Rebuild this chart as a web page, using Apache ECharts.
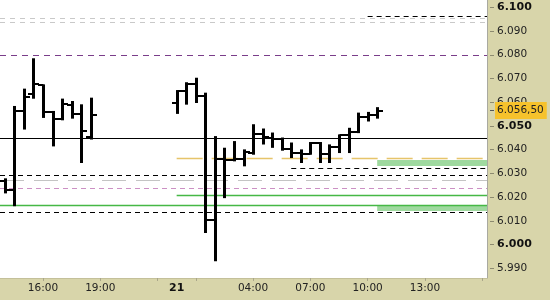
<!DOCTYPE html>
<html><head><meta charset="utf-8">
<script src="https://cdn.jsdelivr.net/npm/echarts@6/dist/echarts.min.js"></script>
<style>html,body{margin:0;padding:0;background:#d8d5aa}#c{width:550px;height:300px}</style>
</head><body><div id="c"></div>
<script>
// 30-minute slots (the 23:00-24:00 hour is not traded)
const categories = [
  '20 14:00','20 14:30','20 15:00','20 15:30','20 16:00','20 16:30','20 17:00','20 17:30','20 18:00','20 18:30',
  '20 19:00','20 19:30','20 20:00','20 20:30','20 21:00','20 21:30','20 22:00','20 22:30',
  '21 00:00','21 00:30','21 01:00','21 01:30','21 02:00','21 02:30','21 03:00','21 03:30','21 04:00','21 04:30',
  '21 05:00','21 05:30','21 06:00','21 06:30','21 07:00','21 07:30','21 08:00','21 08:30','21 09:00','21 09:30',
  '21 10:00','21 10:30','21 11:00','21 11:30','21 12:00','21 12:30','21 13:00','21 13:30','21 14:00','21 14:30',
  '21 15:00','21 15:30','21 16:00'
];
const xLabelCats = ['20 16:00','20 19:00','21 00:00','21 04:00','21 07:00','21 10:00','21 13:00'];
const xLabelTexts = ['16:00','19:00','21','04:00','07:00','10:00','13:00'];
const xTickCats = ['20 16:00','20 19:00','20 22:00','21 01:00','21 04:00','21 07:00','21 10:00','21 13:00','21 16:00'];

const yTicks = [5.99,6.00,6.01,6.02,6.03,6.04,6.05,6.06,6.07,6.08,6.09,6.10];
const yBoldTicks = [6.00,6.05,6.10];
const lastPrice = 6.0565;
const lastPriceText = '6.056,50';

// OHLC bars
const barTimes = ['20 14:00','20 14:30','20 15:00','20 15:30','20 16:00','20 16:30','20 17:00','20 17:30','20 18:00','20 18:30',
  '21 00:00','21 00:30','21 01:00','21 01:30','21 02:00','21 02:30','21 03:00','21 03:30','21 04:00','21 04:30',
  '21 05:00','21 05:30','21 06:00','21 06:30','21 07:00','21 07:30','21 08:00','21 08:30','21 09:00','21 09:30',
  '21 10:00','21 10:30'];
const opens  = [6.0267,6.0230,6.0563,6.0636,6.0671,6.0559,6.0528,6.0590,6.0552,6.0453,
  6.0597,6.0647,6.0676,6.0625,6.0102,6.0362,6.0358,6.0360,6.0388,6.0468,
  6.0451,6.0444,6.0404,6.0386,6.0383,6.0428,6.0383,6.0411,6.0460,6.0474,
  6.0538,6.0545];
const highs  = [6.0275,6.0580,6.0653,6.0781,6.0671,6.0559,6.0611,6.0601,6.0587,6.0615,
  6.0647,6.0680,6.0699,6.0636,6.0453,6.0404,6.0432,6.0397,6.0503,6.0485,
  6.0468,6.0447,6.0426,6.0397,6.0428,6.0428,6.0418,6.0460,6.0488,6.0552,
  6.0555,6.0575];
const lows   = [6.0220,6.0166,6.0489,6.0619,6.0538,6.0418,6.0528,6.0535,6.0348,6.0447,
  6.0555,6.0594,6.0601,6.0053,5.9934,6.0200,6.0355,6.0334,6.0383,6.0426,
  6.0412,6.0400,6.0369,6.0348,6.0383,6.0348,6.0348,6.0390,6.0390,6.0474,
  6.0523,6.0535];
const closes = [6.0229,6.0563,6.0622,6.0676,6.0559,6.0528,6.0594,6.0552,6.0479,6.0545,
  6.0647,6.0676,6.0625,6.0102,6.0362,6.0358,6.0360,6.0390,6.0468,6.0453,
  6.0444,6.0404,6.0386,6.0383,6.0428,6.0383,6.0411,6.0460,6.0474,6.0538,
  6.0545,6.0565];

// horizontal levels: value and first slot (null = whole width)
const levelValues = [6.0960,6.0951,6.0938,6.0799,6.0448,6.0361,6.0322,6.0292,6.0269,6.0236,6.0208,6.0165,6.0135];
const levelStarts = ['21 10:00',null,null,null,null,'21 00:00','21 06:00',null,null,null,'21 00:00',null,null];
const levelKinds  = ['blackDash','grayDash','grayDash','purpleDash','blackSolid','orangeDash','blackDash','blackDash','grayDash2','pinkDash','green','green','blackDash'];

// shaded zones: from slot to right edge
const zoneStarts = ['21 10:30','21 10:30'];
const zoneTops = [6.0357,6.0163];
const zoneBottoms = [6.0331,6.0142];

const lineStyles = {
  blackDash:{stroke:'#000000',lineWidth:1,lineDash:[5,4]},
  grayDash:{stroke:'#c9c9c9',lineWidth:1,lineDash:[5,5]},
  grayDash2:{stroke:'#c4c4c4',lineWidth:1,lineDash:[24,10]},
  purpleDash:{stroke:'#7a3d8a',lineWidth:1.2,lineDash:[6,5]},
  blackSolid:{stroke:'#000000',lineWidth:1},
  orangeDash:{stroke:'#e6c46a',lineWidth:1.5,lineDash:[26,9]},
  pinkDash:{stroke:'#cc90c4',lineWidth:1,lineDash:[5,4]},
  green:{stroke:'#46b846',lineWidth:1.3}
};

const ci = c => categories.indexOf(c);
const FONT = 'DejaVu Sans';
const yMin = 5.98592, yMax = 6.10308;

const chart = echarts.init(document.getElementById('c'), null, {renderer:'canvas'});
const crisp = v => Math.round(v) + 0.5;

chart.setOption({
  animation:false,
  backgroundColor:'#d8d5aa',
  grid:{left:0, top:0, width:487, height:278, show:true, backgroundColor:'#ffffff', borderWidth:0},
  xAxis:{
    type:'category', data:categories, boundaryGap:true,
    axisLine:{show:true, lineStyle:{color:'#c4c09a'}},
    axisTick:{show:true, alignWithLabel:true, length:3, lineStyle:{color:'#aaa68a'},
      interval:(i,v)=>xTickCats.indexOf(categories[i])>=0},
    axisLabel:{margin:5, fontFamily:FONT, fontSize:10.5, color:'#222',
      interval:(i,v)=>xLabelCats.indexOf(categories[i])>=0,
      formatter:(v)=>{const k=xLabelCats.indexOf(v); if(k<0) return ''; const t=xLabelTexts[k]; return t==='21'?'{b|'+t+'}':t;},
      rich:{b:{fontWeight:'bold', fontFamily:FONT, fontSize:11, color:'#111'}}},
    splitLine:{show:false}
  },
  yAxis:[
    {type:'value', position:'right', min:yMin, max:yMax, offset:0,
      axisLine:{show:true, lineStyle:{color:'#a9a9a0'}}, axisTick:{show:false}, axisLabel:{show:false}, splitLine:{show:false}},
    {type:'value', position:'right', min:yMin, max:yMax, offset:3,
      axisLine:{show:false}, splitLine:{show:false},
      axisTick:{show:true, length:4, customValues:yTicks, lineStyle:{color:'#8c8a70'}},
      axisLabel:{customValues:yTicks, margin:7, fontFamily:FONT, fontSize:10.5, color:'#222',
        formatter:(v)=>{const s=v.toFixed(3); return yBoldTicks.some(b=>Math.abs(b-v)<1e-6)?'{b|'+s+'}':s;},
        rich:{b:{fontWeight:'bold', fontFamily:FONT, fontSize:11, color:'#111'}}}},
    {type:'value', position:'right', min:yMin, max:yMax, offset:3,
      axisLine:{show:false}, splitLine:{show:false},
      axisTick:{show:true, length:4, customValues:[lastPrice], lineStyle:{color:'#555'}},
      axisLabel:{customValues:[lastPrice], margin:5, fontFamily:FONT, fontSize:10.5, color:'#222',
        backgroundColor:'#f6c22c', padding:[5,3,1,2], formatter:()=>lastPriceText}}
  ],
  series:[
    {type:'custom', yAxisIndex:0, silent:true, clip:true,
      data:zoneStarts.map((s,i)=>[ci(s), zoneTops[i], zoneBottoms[i]]),
      renderItem:(params, api)=>{
        const cs = params.coordSys;
        const p1 = api.coord([api.value(0), api.value(1)]);
        const p2 = api.coord([api.value(0), api.value(2)]);
        return {type:'rect', shape:{x:p1[0], y:p1[1], width:cs.x+cs.width-p1[0], height:p2[1]-p1[1]},
          style:{fill:'#9fd99f'}};
      }},
    {type:'custom', yAxisIndex:0, silent:true, clip:true,
      data:levelValues.map((v,i)=>[levelStarts[i]===null?-1:ci(levelStarts[i]), v]),
      renderItem:(params, api)=>{
        const cs = params.coordSys;
        const s = api.value(0);
        const p = api.coord([s<0?0:s, api.value(1)]);
        const x1 = s<0 ? cs.x : p[0];
        const y = crisp(p[1]-0.5);
        return {type:'line', shape:{x1:x1, y1:y, x2:cs.x+cs.width, y2:y},
          style:Object.assign({fill:null}, lineStyles[levelKinds[params.dataIndex]])};
      }},
    {type:'custom', yAxisIndex:0, silent:true, clip:true,
      data:barTimes.map((t,i)=>[ci(t), opens[i], highs[i], lows[i], closes[i]]),
      renderItem:(params, api)=>{
        const idx = api.value(0);
        const o = api.coord([idx, api.value(1)]);
        const h = api.coord([idx, api.value(2)]);
        const l = api.coord([idx, api.value(3)]);
        const c = api.coord([idx, api.value(4)]);
        const x = Math.round(o[0]) + 0.5;
        return {type:'group', children:[
          {type:'line', shape:{x1:x, y1:h[1]-1, x2:x, y2:l[1]+1}, style:{stroke:'#000', lineWidth:3}},
          {type:'line', shape:{x1:x-5.5, y1:Math.round(o[1]), x2:x, y2:Math.round(o[1])}, style:{stroke:'#000', lineWidth:2}},
          {type:'line', shape:{x1:x, y1:Math.round(c[1]), x2:x+5.5, y2:Math.round(c[1])}, style:{stroke:'#000', lineWidth:2}}
        ]};
      }}
  ]
});
</script></body></html>
